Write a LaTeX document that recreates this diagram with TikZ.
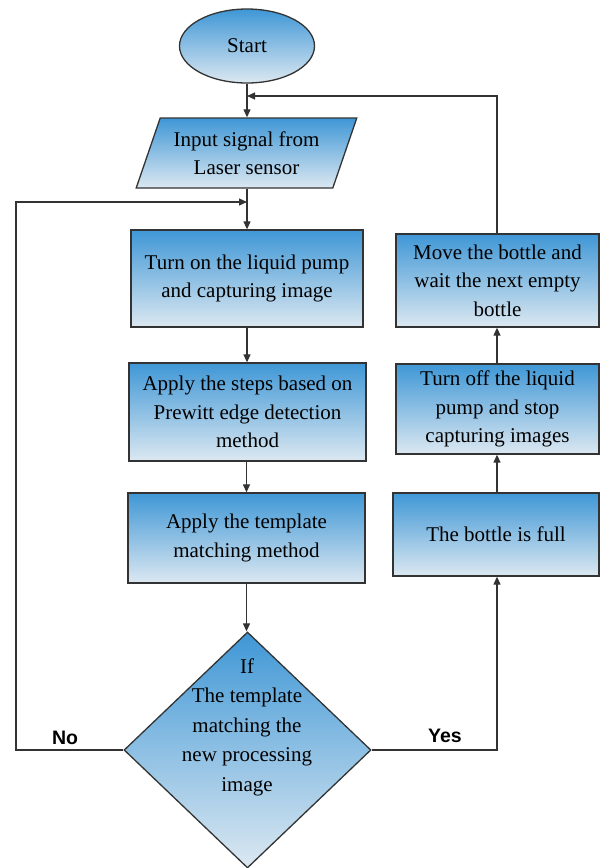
\documentclass[tikz,border=0pt]{standalone}
\usepackage{fontspec}
\setmainfont{Liberation Serif}
\newfontfamily\lblfont{Liberation Sans}
\usetikzlibrary{shapes.geometric,arrows.meta}
\definecolor{topblue}{HTML}{3F97D6}
\definecolor{botblue}{HTML}{DCE8F1}
\definecolor{edgec}{HTML}{333333}
\begin{document}
\begin{tikzpicture}[x=1pt,y=-1pt,
  blk/.style={draw=edgec,line width=1.3pt,top color=topblue,bottom color=botblue,
    align=center,font=\fontsize{21}{28.5}\selectfont,inner sep=0pt},
  procbox/.style={blk,rectangle},
  arr/.style={draw=edgec,line width=1.2pt,-{Triangle[length=8pt,width=7pt]}},
  lbl/.style={font=\lblfont\bfseries\fontsize{19.5}{22}\selectfont,inner sep=0pt},
  dtxt/.style={align=center,font=\fontsize{21}{29.5}\selectfont,inner sep=0pt}]
\useasboundingbox (0,0) rectangle (600,868);

\node[blk,ellipse,minimum width=135pt,minimum height=74pt] (start) at (247,46) {Start};
\node[blk,trapezium,trapezium left angle=65,trapezium right angle=115,
  minimum width=221pt,minimum height=70pt,trapezium stretches=true] (io) at (246.5,153)
  {Input signal from\\Laser sensor};
\node[procbox,minimum width=232pt,minimum height=97pt] (b1) at (247,278.5)
  {Turn on the liquid pump\\and capturing image};
\node[procbox,minimum width=237pt,minimum height=98pt] (b2) at (247.5,412)
  {Apply the steps based on\\Prewitt edge detection\\method};
\node[procbox,minimum width=237pt,minimum height=90pt] (b3) at (246.5,538)
  {Apply the template\\matching method};
\node[blk,diamond,aspect=1.05,minimum width=247pt,minimum height=236pt] (dia) at (247.5,750) {};
\node[dtxt] (dtext) at (247,727) {If\\The template\\matching the\\new processing\\image};

\node[procbox,minimum width=206pt,minimum height=83pt] (full) at (496,534.5)
  {The bottle is full};
\node[procbox,minimum width=203pt,minimum height=90pt] (off) at (497.5,409)
  {Turn off the liquid\\pump and stop\\capturing images};
\node[procbox,minimum width=203pt,minimum height=93pt] (move) at (497.5,280.5)
  {Move the bottle and\\wait the next empty\\bottle};

\coordinate (retin) at (247,96);
\coordinate (loopin) at (247,202);

\draw[arr] (start.south) -- (io.north -| start.south);
\draw[arr] (io.south -| b1.north) -- (b1.north);
\draw[arr] (b1.south) -- (b2.north -| b1.south);
\draw[arr] (b2.south -| b3.north) -- (b3.north);
\draw[arr] (b3.south) -- (dia.north -| b3.south);
\draw[arr] (dia.west) -- (16,750) |- (loopin);
\draw[arr] (dia.east) -- (497,750) -- (full.south -| 497,0);
\draw[arr] (full.north -| 497,0) -- (off.south -| 497,0);
\draw[arr] (off.north -| 497,0) -- (move.south -| 497,0);
\draw[arr] (move.north -| 497,0) |- (retin);

\node[lbl] (nolbl) at (65,738) {No};
\node[lbl] (yeslbl) at (445,736) {Yes};
\end{tikzpicture}
\end{document}
